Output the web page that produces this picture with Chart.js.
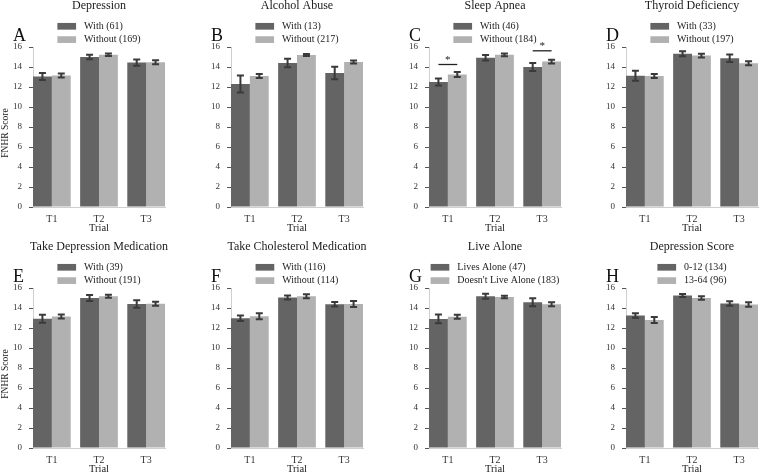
<!DOCTYPE html>
<html><head><meta charset="utf-8">
<script src="https://cdn.jsdelivr.net/npm/chart.js@4"></script>
<style>
html,body{margin:0;padding:0;background:#fff;overflow:hidden;width:763px;height:475px;}
canvas{position:absolute;}
</style></head><body>
<script>
// ---------- data ----------
const trials = ['T1','T2','T3'];
const panelTitles = ['Depression','Alcohol Abuse','Sleep Apnea','Thyroid Deficiency','Take Depression Medication','Take Cholesterol Medication','Live Alone','Depression Score'];
const panelLetters = ['A','B','C','D','E','F','G','H'];
const groupOneLabels = ['With (61)','With (13)','With (46)','With (33)','With (39)','With (116)','Lives Alone (47)','0-12 (134)'];
const groupTwoLabels = ['Without (169)','Without (217)','Without (184)','Without (197)','Without (191)','Without (114)',"Doesn't Live Alone (183)",'13-64 (96)'];
const groupOneMeans = [
  [13.05,15.00,14.44],
  [12.30,14.40,13.40],
  [12.50,14.93,14.00],
  [13.12,15.32,14.87],
  [12.92,15.00,14.40],
  [12.98,15.04,14.38],
  [12.91,15.17,14.58],
  [13.25,15.24,14.45]];
const groupOneErrors = [
  [0.35,0.23,0.32],
  [0.85,0.43,0.63],
  [0.35,0.27,0.40],
  [0.50,0.25,0.37],
  [0.40,0.30,0.38],
  [0.28,0.20,0.23],
  [0.43,0.25,0.40],
  [0.22,0.15,0.23]];
const groupTwoMeans = [
  [13.15,15.23,14.47],
  [13.10,15.20,14.50],
  [13.25,15.22,14.54],
  [13.10,15.14,14.37],
  [13.15,15.17,14.42],
  [13.18,15.17,14.40],
  [13.12,15.10,14.38],
  [12.80,15.00,14.35]];
const groupTwoErrors = [
  [0.20,0.12,0.20],
  [0.20,0.10,0.15],
  [0.25,0.14,0.18],
  [0.20,0.18,0.20],
  [0.20,0.15,0.20],
  [0.30,0.20,0.30],
  [0.20,0.13,0.20],
  [0.30,0.17,0.22]];
const yTicks = [0,2,4,6,8,10,12,14,16];
const yAxisTitle = 'FNHR Score';
const xAxisTitle = 'Trial';
const sigPanel = 2;
const sigTrials = [0,2];
const sigLevels = [14.25,15.62];

// ---------- layout / style ----------
const colLefts = [0,198,396,593];
const rowTops = [0,241];
const CW = 170, CH = 237;
const FONT = "'Liberation Serif','DejaVu Serif',serif";
const darkColor = '#646464';
const lightColor = '#b1b1b1';

Chart.defaults.font.family = FONT;
Chart.defaults.color = '#333';

const decor = {
  id: 'decor',
  afterDatasetsDraw(chart, args, opts) {
    const ctx = chart.ctx, ys = chart.scales.y;
    ctx.save();
    ctx.strokeStyle = '#3a3a3a';
    ctx.lineWidth = 2;
    chart.data.datasets.forEach((ds, di) => {
      const meta = chart.getDatasetMeta(di);
      meta.data.forEach((bar, j) => {
        const m = ds.data[j].y, e = ds.errors[j];
        const y1 = ys.getPixelForValue(m + e), y2 = ys.getPixelForValue(m - e);
        ctx.beginPath();
        ctx.moveTo(bar.x, y1); ctx.lineTo(bar.x, y2);
        ctx.moveTo(bar.x - 3.5, y1); ctx.lineTo(bar.x + 3.5, y1);
        ctx.moveTo(bar.x - 3.5, y2); ctx.lineTo(bar.x + 3.5, y2);
        ctx.stroke();
      });
    });
    (opts.sig || []).forEach(s => {
      const a = chart.getDatasetMeta(0).data[s.trial], b = chart.getDatasetMeta(1).data[s.trial];
      const y = ys.getPixelForValue(s.level);
      ctx.strokeStyle = '#222'; ctx.lineWidth = 1.3;
      ctx.beginPath(); ctx.moveTo(a.x, y); ctx.lineTo(b.x, y); ctx.stroke();
      ctx.fillStyle = '#222';
      ctx.font = '11px ' + FONT;
      ctx.textAlign = 'center'; ctx.textBaseline = 'alphabetic';
      ctx.fillText('*', (a.x + b.x) / 2, y - 1.5);
    });
    ctx.restore();
  },
  afterDraw(chart, args, opts) {
    const ctx = chart.ctx, ca = chart.chartArea;
    const cx = (ca.left + ca.right) / 2;
    ctx.save();
    ctx.fillStyle = '#1a1a1a';
    ctx.font = '12px ' + FONT;
    ctx.textAlign = 'center'; ctx.textBaseline = 'middle';
    ctx.fillText(opts.title, cx, ca.top - 41);
    if (opts.yTitle) {
      ctx.save();
      ctx.translate(5, (ca.top + ca.bottom) / 2 + 6);
      ctx.rotate(-Math.PI / 2);
      ctx.font = '9.5px ' + FONT;
      ctx.fillStyle = '#222';
      ctx.fillText(opts.yTitle, 0, 0);
      ctx.restore();
    }
    ctx.font = '18px ' + FONT;
    ctx.textAlign = 'left'; ctx.textBaseline = 'alphabetic';
    ctx.fillStyle = '#111';
    ctx.fillText(opts.letter, ca.left - 20, ca.top - 6.5);
    ctx.font = '10px ' + FONT;
    const dsets = chart.data.datasets;
    const maxW = Math.max(...dsets.map(d => ctx.measureText(d.label).width));
    const boxW = 18.7, boxH = 6.7, gap = 8;
    const start = cx - (boxW + gap + maxW) / 2;
    const rowsY = [ca.top - 20.7, ca.top - 7.4];
    dsets.forEach((d, i) => {
      ctx.fillStyle = d.backgroundColor;
      ctx.fillRect(start, rowsY[i] - boxH / 2, boxW, boxH);
      ctx.fillStyle = '#222';
      ctx.textBaseline = 'middle';
      ctx.fillText(d.label, start + boxW + gap, rowsY[i]);
    });
    ctx.restore();
  }
};

for (let i = 0; i < 8; i++) {
  const col = i % 4, row = Math.floor(i / 4);
  const cv = document.createElement('canvas');
  cv.width = CW; cv.height = CH;
  cv.style.left = colLefts[col] + 'px';
  cv.style.top = rowTops[row] + 'px';
  cv.style.width = CW + 'px'; cv.style.height = CH + 'px';
  document.body.appendChild(cv);
  new Chart(cv, {
    type: 'bar',
    data: {
      datasets: [
        { label: groupOneLabels[i], data: trials.map((t, j) => ({ x: j, y: groupOneMeans[i][j] })), errors: groupOneErrors[i], backgroundColor: darkColor, borderWidth: 0 },
        { label: groupTwoLabels[i], data: trials.map((t, j) => ({ x: j, y: groupTwoMeans[i][j] })), errors: groupTwoErrors[i], backgroundColor: lightColor, borderWidth: 0 }
      ]
    },
    options: {
      responsive: false,
      animation: false,
      devicePixelRatio: 1,
      layout: { padding: { top: 47, left: 0, right: 5, bottom: 0 } },
      datasets: { bar: { categoryPercentage: 0.8, barPercentage: 1.0 } },
      plugins: {
        legend: { display: false },
        title: { display: false },
        tooltip: { enabled: false },
        decor: {
          title: panelTitles[i],
          letter: panelLetters[i],
          yTitle: col === 0 ? yAxisTitle : '',
          sig: i === sigPanel ? sigTrials.map((t, k) => ({ trial: t, level: sigLevels[k] })) : []
        }
      },
      scales: {
        x: {
          type: 'linear',
          offset: false,
          min: -0.4, max: 2.4,
          afterBuildTicks: s => { s.ticks = trials.map((t, j) => ({ value: j })); },
          afterFit: s => { s.height = 30; },
          ticks: { callback: v => trials[v], font: { size: 10 }, color: '#333', padding: 6, maxRotation: 0, autoSkip: false },
          grid: { display: true, drawOnChartArea: false, drawTicks: false, offset: false },
          border: { display: true, color: '#cfcfcf', width: 1 },
          title: { display: true, text: xAxisTitle, font: { size: 10.5 }, color: '#222', padding: { top: 0, bottom: 2 } }
        },
        y: {
          min: 0, max: 16,
          afterBuildTicks: s => { s.ticks = yTicks.map(v => ({ value: v })); },
          afterFit: s => { s.width = 33; },
          ticks: { font: { size: 9 }, color: '#333', padding: 7 },
          grid: { display: true, drawOnChartArea: false, drawTicks: true, tickLength: 4, color: '#555' },
          border: { display: true, color: '#cfcfcf', width: 1 },
          title: { display: false }
        }
      }
    },
    plugins: [decor]
  });
}
</script>
</body></html>
